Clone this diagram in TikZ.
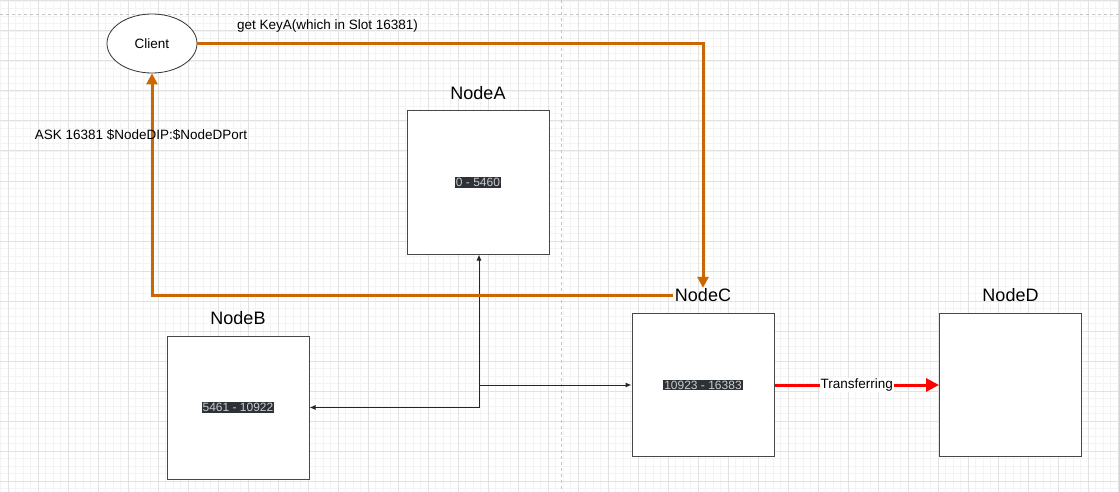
\documentclass[tikz,border=0pt]{standalone}
\usepackage{fontspec}
\setmainfont{Liberation Sans}
\usetikzlibrary{arrows.meta,shapes.geometric}
\definecolor{gridmajor}{HTML}{E2E2E2}
\definecolor{gridminor}{HTML}{F4F4F4}
\definecolor{pageline}{HTML}{C4C4C4}
\definecolor{askorange}{HTML}{CC6600}
\definecolor{slotbg}{HTML}{2E3236}
\definecolor{slottext}{HTML}{C8CCD0}
\tikzset{
  slotbox/.style={draw=black!72, line width=1pt, fill=white, minimum width=142pt, minimum height=143pt, inner sep=0pt},
  slottag/.style={fill=slotbg, text=slottext, inner sep=1pt, font=\fontsize{12}{14}\selectfont},
  boxname/.style={font=\fontsize{18}{21}\selectfont},
  msg/.style={font=\fontsize{13.5}{16}\selectfont},
  askline/.style={draw=askorange, line width=3pt, -{Triangle[length=11pt,width=11pt]}},
  linkline/.style={draw=black!85, line width=1pt, -{Latex[length=6pt,width=5pt]}},
}
\begin{document}
\begin{tikzpicture}[x=1pt,y=-1pt]
		\useasboundingbox (0,0) rectangle (1119,492);
		\fill[white] (0,0) rectangle (1119,492);
		% grid
		\foreach \gx in {0.5,8,...,1119} \draw[gridminor,line width=0.8pt] (\gx,0) -- (\gx,492);
		\foreach \gy in {1,8.5,...,492} \draw[gridminor,line width=0.8pt] (0,\gy) -- (1119,\gy);
		\foreach \gx in {8,38,...,1119} \draw[gridmajor,line width=1pt] (\gx,0) -- (\gx,492);
		\foreach \gy in {1,31,...,492} \draw[gridmajor,line width=1pt] (0,\gy) -- (1119,\gy);
		\draw[pageline,dashed,line width=0.8pt] (0,14) -- (1119,14);
		\draw[pageline,dashed,line width=0.8pt] (561,0) -- (561,492);
		% client
		\node[draw=black!80, line width=0.8pt, fill=white, ellipse, minimum width=90pt, minimum height=59pt, msg] (client) at (152,43.5) {Client};
		% nodes
		\node[slotbox] (nodeA) at (478,182.5) {};
		\node[slottag] at (nodeA) {0 - 5460};
		\node[boxname] (labA) at (478,93) {NodeA};
		\node[slotbox] (nodeB) at (238,407.5) {};
		\node[slottag] at (nodeB) {5461 - 10922};
		\node[boxname] (labB) at (238,318) {NodeB};
		\node[slotbox] (nodeC) at (703,385) {};
		\node[slottag] at (nodeC) {10923 - 16383};
		\node[boxname] (labC) at (703,295) {NodeC};
		\node[slotbox] (nodeD) at (1010.5,385) {};
		\node[boxname] (labD) at (1010.5,295) {NodeD};
		% links between nodes
		\coordinate (split) at (479,407.5);
		\coordinate (branch) at (479,385);
		\draw[linkline] (split) -- (split |- nodeA.south);
		\draw[linkline] (split) -- (nodeB.east);
		\draw[linkline] (branch) -- (nodeC.west);
		\draw[draw=red, line width=3pt, -{Triangle[length=13pt,width=13pt]}] (nodeC.east) -- (nodeD.west)
			node[midway, fill=white, inner sep=1pt, msg] {Transferring};
		% client requests
		\draw[askline] (client.east) -| ([yshift=-3pt]labC.north);
		\draw[askline] ([xshift=2pt]labC.west) -| (client.south);
		\node[msg] at (327.5,26) {get KeyA(which in Slot 16381)};
		\node[msg] at (141,135) {ASK 16381 \$NodeDIP:\$NodeDPort};
		\end{tikzpicture}
\end{document}
